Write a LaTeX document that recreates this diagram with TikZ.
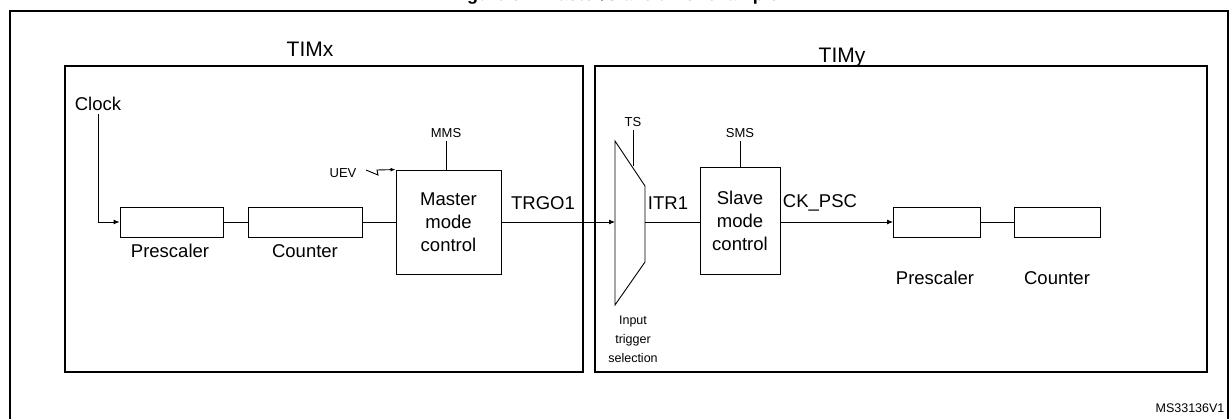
\documentclass[tikz,border=0pt]{standalone}
\usepackage{fontspec}
\setmainfont{Liberation Sans}
\usetikzlibrary{arrows.meta}
\begin{document}
\begin{tikzpicture}[x=1pt,y=-1pt,
  big/.style={font=\fontsize{21}{23}\selectfont},
  med/.style={font=\fontsize{18.5}{23}\selectfont},
  sm/.style={font=\fontsize{13}{18}\selectfont},
  blk/.style={draw,line width=0.9pt,inner sep=0},
  ln/.style={line width=0.9pt},
  arr/.style={ln,-{Latex[length=6pt,width=5pt]}}]
\useasboundingbox (0,0) rectangle (1230,419);
\begin{scope}
\clip (0,0) rectangle (1230,419);
\node[font=\bfseries\fontsize{18}{20}\selectfont] (title) at (615,-4) {Figure 64. Master/Slave timer example};
\draw[line width=1.5pt] (10,11) rectangle (1228,430);
\end{scope}
\draw[line width=2pt] (65,66) rectangle (583,372);
\draw[line width=2pt] (595,66) rectangle (1207,372);
\node[big] (timx) at (310,49) {TIMx};
\node[big] (timy) at (842,57) {TIMy};
% left
\node[med] (clock) at (98,104) {Clock};
\node[blk,minimum width=103,minimum height=30] (p1) at (171.5,222) {};
\node[blk,minimum width=114,minimum height=30] (c1) at (305,222) {};
\node[blk,minimum width=105,minimum height=104,align=center,med] (mm) at (448.5,222) {Master\\mode\\control};
\node[med] (p1l) at (170,251) {Prescaler};
\node[med] (c1l) at (305,251) {Counter};
\coordinate (ck) at (98,222);
\draw[arr] (clock.south -| ck) -- (ck) -- (p1.west);
\draw[ln] (p1) -- (c1);
\draw[ln] (c1) -- (mm);
\node[sm] (mms) at (446,133) {MMS};
\draw[ln] (mms.south) -- (mms.south |- mm.north);
\node[sm] (uev) at (343,173) {UEV};
\coordinate (u1) at (366,170);
\coordinate (u2) at (378,175);
\coordinate (u3) at (377,170);
\draw[ln,-{Latex[length=5pt,width=4pt]}] (u1) -- (u2) -- (u3) -- (mm.north west);
% mux
\coordinate (m1) at (615,141);
\coordinate (m2) at (645,186);
\coordinate (m3) at (645,262);
\coordinate (m4) at (615,305);
\draw[ln] (m1) -- (m2) -- (m3) -- (m4) -- cycle;
\coordinate (min) at (615,222);
\coordinate (mout) at (645,222);
\node[med] (trgo) at (543,203) {TRGO1};
\draw[arr] (mm.east) -- (min);
\node[sm] (ts) at (633,122) {TS};
\coordinate (tsb) at (633,166);
\draw[ln] (ts.south) -- (tsb);
\node[sm,align=center,font=\fontsize{12.5}{19}\selectfont] (its) at (633,339) {Input\\trigger\\selection};
% right
\node[blk,minimum width=80,minimum height=107,align=center,med] (sl) at (740,220.5) {Slave\\mode\\control};
\node[med] (itr) at (668,203) {ITR1};
\draw[ln] (mout) -- (mout -| sl.west);
\node[sm] (sms) at (740,133) {SMS};
\draw[ln] (sms.south) -- (sl.north);
\node[blk,minimum width=87,minimum height=30] (p2) at (937,222) {};
\node[blk,minimum width=86,minimum height=30] (c2) at (1057,222) {};
\node[med] (p2l) at (935,278) {Prescaler};
\node[med] (c2l) at (1057,278) {Counter};
\node[med] (ckpsc) at (820,203) {CK\_PSC};
\draw[arr] (sl.east |- p2) -- (p2.west);
\draw[ln] (p2) -- (c2);
\node[font=\fontsize{12.5}{14}\selectfont] (ms) at (1190,408) {MS33136V1};
\end{tikzpicture}
\end{document}
